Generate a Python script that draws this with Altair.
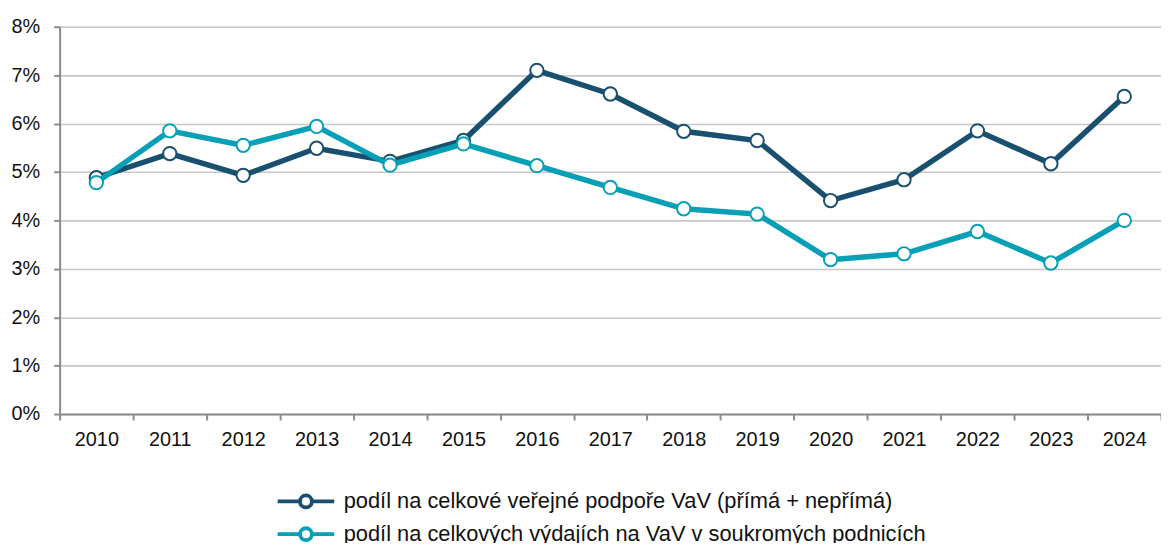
import altair as alt
import pandas as pd

years = [str(y) for y in range(2010, 2025)]
series_names = [
    "podíl na celkové veřejné podpoře VaV (přímá + nepřímá)",
    "podíl na celkových výdajích na VaV v soukromých podnicích",
]
public_support = [4.88, 5.38, 4.93, 5.49, 5.22, 5.65, 7.10, 6.61, 5.84, 5.65, 4.41, 4.84, 5.85, 5.17, 6.56]
private_spend = [4.78, 5.85, 5.55, 5.94, 5.14, 5.58, 5.13, 4.68, 4.24, 4.13, 3.19, 3.31, 3.77, 3.12, 4.00]
colors = ["#19506f", "#06a0b6"]

rows = []
for i, y in enumerate(years):
    rows.append({"year": y, "series": series_names[0], "value": public_support[i] / 100, "order": 0})
    rows.append({"year": y, "series": series_names[1], "value": private_spend[i] / 100, "order": 1})
df = pd.DataFrame(rows)

FONT = "Liberation Sans"

color_scale = alt.Scale(domain=series_names, range=colors)

legend_path = "M-2.85,0L-0.6,0M0.6,0L2.85,0M0.6,0A0.6,0.6,0,1,1,-0.6,0A0.6,0.6,0,1,1,0.6,0"

x_enc = alt.X(
    "year:N",
    sort=years,
    title=None,
    scale=alt.Scale(paddingInner=0, paddingOuter=0),
    axis=alt.Axis(
        labelAngle=0,
        tickBand="extent",
        domainColor="#8c8c8c",
        domainWidth=2,
        tickColor="#8c8c8c",
        tickWidth=2,
        tickSize=6,
        labelPadding=10,
        labelFontSize=20,
        labelFont=FONT,
        labelColor="#111111",
        grid=False,
    ),
)
y_enc = alt.Y(
    "value:Q",
    title=None,
    scale=alt.Scale(domain=[0, 0.08], nice=False),
    axis=alt.Axis(
        format=".0%",
        values=[0, 0.01, 0.02, 0.03, 0.04, 0.05, 0.06, 0.07, 0.08],
        domainColor="#8c8c8c",
        domainWidth=2,
        tickColor="#8c8c8c",
        tickWidth=2,
        tickSize=6,
        labelPadding=14,
        labelFontSize=20,
        labelFont=FONT,
        labelColor="#111111",
        gridColor="#c8c8c8",
        gridWidth=1.6,
    ),
)

color_enc = alt.Color(
    "series:N",
    scale=color_scale,
    legend=alt.Legend(
        title=None,
        orient="none",
        direction="vertical",
        legendX=236,
        legendY=466,
        symbolType=legend_path,
        symbolSize=400,
        symbolStrokeWidth=3.8,
        symbolFillColor="white",
        labelOffset=26,
        labelFontSize=22,
        labelFont=FONT,
        labelColor="#111111",
        rowPadding=5,
        padding=0,
        labelLimit=1000,
    ),
)

layers = []
for i, name in enumerate(series_names):
    sub = alt.Chart(df).transform_filter(alt.datum.series == name)
    line = sub.mark_line(strokeWidth=5.5).encode(x=x_enc, y=y_enc, color=color_enc)
    pts = sub.mark_point(shape="circle", filled=True, fill="white", size=180, strokeWidth=2, opacity=1).encode(
        x=x_enc, y=y_enc, stroke=alt.Stroke("series:N", scale=color_scale, legend=None)
    )
    layers += [line, pts]

chart = (
    alt.layer(*layers)
    .properties(
        width=1109,
        height=390,
        autosize=alt.AutoSizeParams(type="none"),
        padding={"left": 52, "top": 17, "right": 0, "bottom": 128},
    )
    .configure_view(stroke=None)
    .configure(background="white")
)

chart.save("out.html", embed_options={"renderer": "svg", "actions": False})
